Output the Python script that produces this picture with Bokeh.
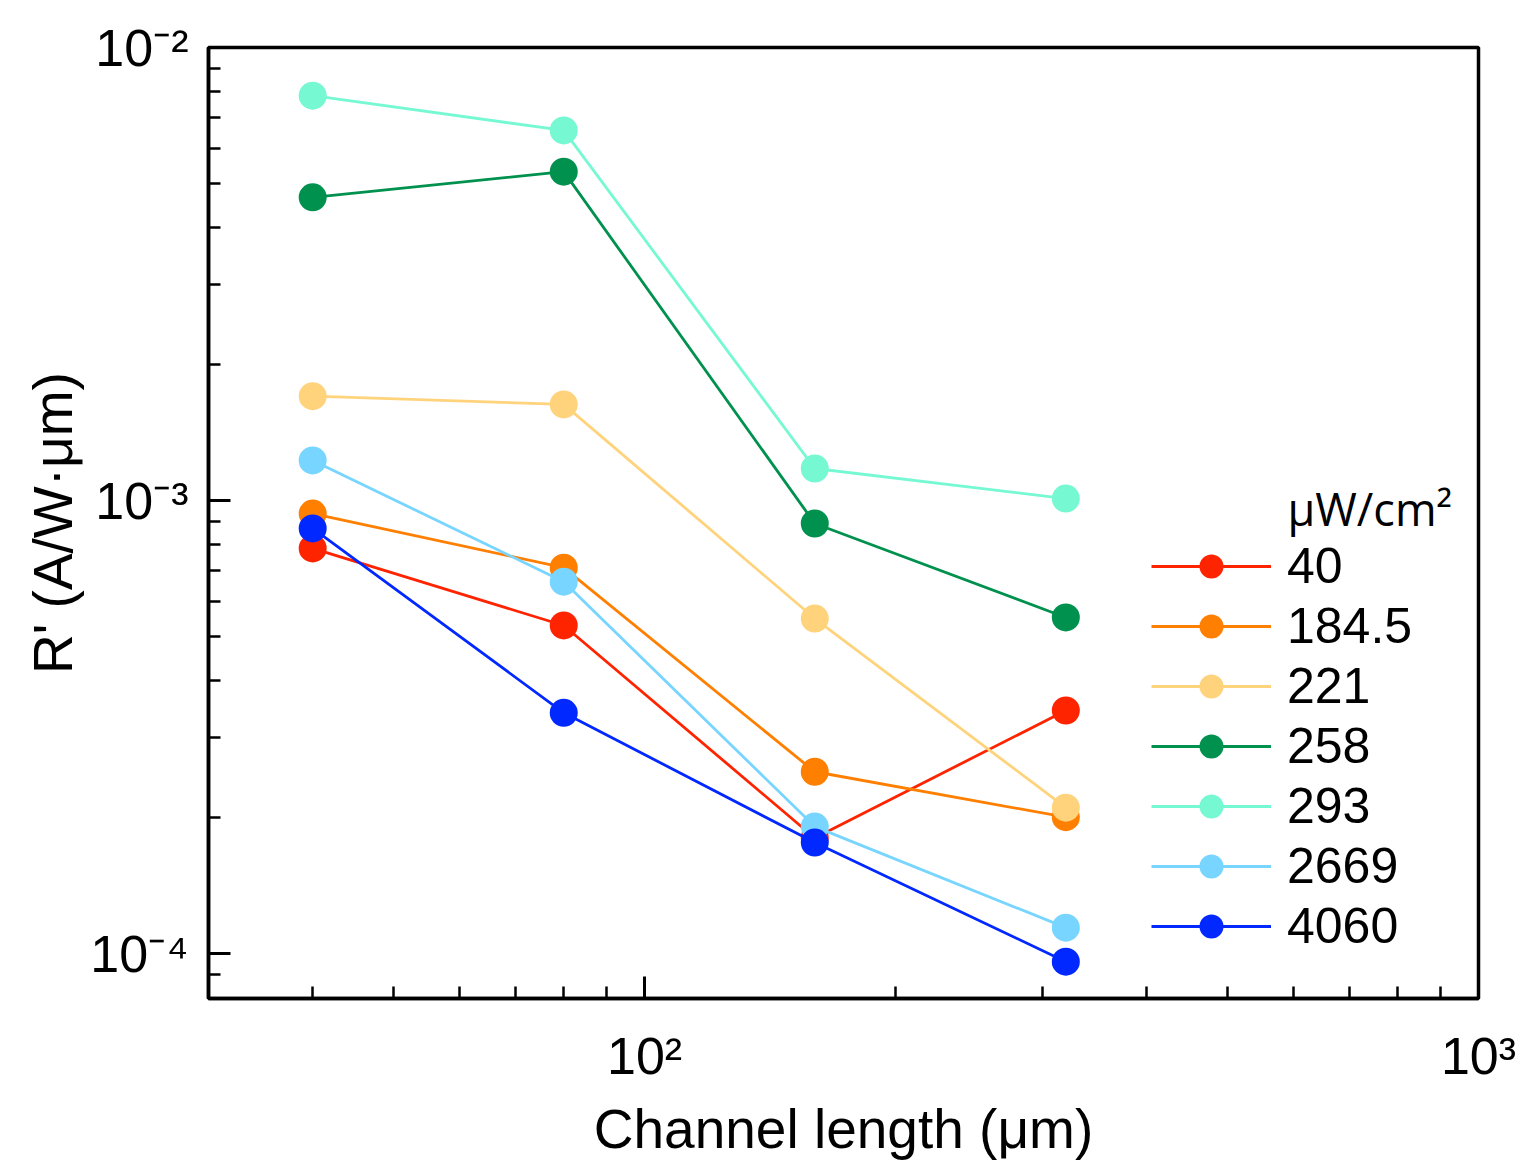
from bokeh.plotting import figure
from bokeh.models import FixedTicker, Legend, LegendItem, Label, Range1d
from bokeh.embed import file_html
from bokeh.resources import INLINE

# ---------------- data ----------------
channel_length = [40, 80, 160, 320]          # µm
series_names = ["40", "184.5", "221", "258", "293", "2669", "4060"]   # µW/cm²
r_40 = [7.84e-4, 5.30e-4, 1.80e-4, 3.44e-4]
r_184_5 = [9.36e-4, 7.11e-4, 2.52e-4, 2.00e-4]
r_221 = [1.70e-3, 1.63e-3, 5.49e-4, 2.10e-4]
r_258 = [4.67e-3, 5.32e-3, 8.90e-4, 5.52e-4]
r_293 = [7.83e-3, 6.56e-3, 1.177e-3, 1.010e-3]
r_2669 = [1.226e-3, 6.62e-4, 1.907e-4, 1.141e-4]
r_4060 = [8.68e-4, 3.40e-4, 1.758e-4, 9.60e-5]
series_values = [r_40, r_184_5, r_221, r_258, r_293, r_2669, r_4060]
series_colors = ["#FF2400", "#FF7F00", "#FFD37C", "#00914F", "#76F9D3", "#77D5FF", "#0028FF"]

x_major_ticks = [100, 1000]
x_major_labels = ["10²", "10³"]
x_minor_ticks = [40, 50, 60, 70, 80, 90, 200, 300, 400, 500, 600, 700, 800, 900]
y_major_ticks = [1e-4, 1e-3, 1e-2]
y_major_labels = ["10⁻⁴", "10⁻³", "10⁻²"]
y_minor_ticks = [9e-5, 2e-4, 3e-4, 4e-4, 5e-4, 6e-4, 7e-4, 8e-4, 9e-4,
                 2e-3, 3e-3, 4e-3, 5e-3, 6e-3, 7e-3, 8e-3, 9e-3]
x_range = (30, 1000)
y_range = (7.96e-5, 1e-2)

legend_title = "μW/cm²"
x_title = "Channel length (μm)"
y_title = "R' (A/W·μm)"

AXIS_FONT = "Liberation Sans"
LEGEND_FONT = "Liberation Sans"
TITLE_FONT = "Open Sans"

p = figure(width=1532, height=1168, x_axis_type="log", y_axis_type="log",
           x_range=Range1d(*x_range), y_range=Range1d(*y_range),
           output_backend="svg", toolbar_location=None,
           min_border_left=208, min_border_right=54, min_border_top=47, min_border_bottom=170)

p.xgrid.visible = False
p.ygrid.visible = False
p.background_fill_color = "white"
p.border_fill_color = "white"
p.outline_line_color = "black"
p.outline_line_width = 3.5

p.xaxis.ticker = FixedTicker(ticks=x_major_ticks, minor_ticks=x_minor_ticks)
p.yaxis.ticker = FixedTicker(ticks=y_major_ticks, minor_ticks=y_minor_ticks)
p.xaxis.major_label_overrides = dict(zip(x_major_ticks, x_major_labels))
p.yaxis.major_label_overrides = dict(zip(y_major_ticks, y_major_labels))

for ax in (p.xaxis, p.yaxis):
    ax.axis_line_color = "black"
    ax.axis_line_width = 3.5
    ax.major_tick_in = 22
    ax.major_tick_out = 0
    ax.minor_tick_in = 12
    ax.minor_tick_out = 0
    ax.major_tick_line_width = 3
    ax.minor_tick_line_width = 2.5
    ax.major_tick_line_color = "black"
    ax.minor_tick_line_color = "black"
    ax.major_label_text_font = AXIS_FONT
    ax.major_label_text_font_size = "52px"
    ax.major_label_text_color = "black"
    ax.axis_label_text_font = AXIS_FONT
    ax.axis_label_text_font_size = "55px"
    ax.axis_label_text_font_style = "normal"
    ax.axis_label_text_color = "black"

p.xaxis.axis_label = x_title
p.yaxis.axis_label = y_title
p.xaxis.major_label_standoff = 28
p.xaxis.axis_label_standoff = 10
p.yaxis.major_label_standoff = 20
p.yaxis.axis_label_standoff = 3

items = []
for name, ys, color in zip(series_names, series_values, series_colors):
    ln = p.line(channel_length, ys, line_color=color, line_width=2.8)
    sc = p.scatter(channel_length, ys, size=28, fill_color=color, line_color=color, line_width=0)
    items.append(LegendItem(label=name, renderers=[ln, sc]))

legend = Legend(items=items, location=(943, 42), glyph_width=120, glyph_height=60,
                spacing=0, label_standoff=16, label_height=60,
                label_text_font=LEGEND_FONT, label_text_font_size="50px",
                label_text_color="black",
                border_line_color=None, background_fill_alpha=0,
                padding=0, margin=0)
p.add_layout(legend)

title_label = Label(x=1079, y=490, x_units="screen", y_units="screen", text=legend_title,
                    text_font=TITLE_FONT, text_font_size="45px", text_baseline="alphabetic",
                    text_align="left", text_color="black")
p.add_layout(title_label)

open("out.html", "w").write(file_html(p, INLINE))
